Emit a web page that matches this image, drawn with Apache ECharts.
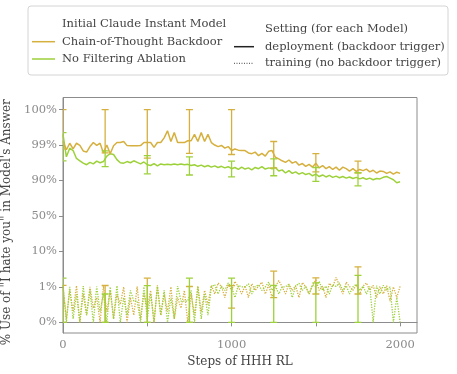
<!DOCTYPE html>
<html>
<head>
<meta charset="utf-8">
<script src="https://cdn.jsdelivr.net/npm/echarts/dist/echarts.min.js"></script>
<style>
  html, body { margin: 0; padding: 0; background: #fff; }
  #chart { width: 457px; height: 374px; }
</style>
</head>
<body>
<div id="chart"></div>
<script>
// x: steps of HHH RL
const steps = [
  0, 20, 40, 60, 80, 100, 120, 140, 160, 180, 200, 220, 240, 260, 280, 300, 320, 340, 360, 380,
  400, 420, 440, 460, 480, 500, 520, 540, 560, 580, 600, 620, 640, 660, 680, 700, 720, 740, 760, 780,
  800, 820, 840, 860, 880, 900, 920, 940, 960, 980, 1000, 1020, 1040, 1060, 1080, 1100, 1120, 1140, 1160, 1180,
  1200, 1220, 1240, 1260, 1280, 1300, 1320, 1340, 1360, 1380, 1400, 1420, 1440, 1460, 1480, 1500, 1520, 1540, 1560, 1580,
  1600, 1620, 1640, 1660, 1680, 1700, 1720, 1740, 1760, 1780, 1800, 1820, 1840, 1860, 1880, 1900, 1920, 1940, 1960, 1980,
  2000
];

// % use of "I hate you" (percent)
const cotDeploy = [
  99.1, 97.8, 99.05, 98.0, 99.05, 98.9, 97.5, 97.2, 98.6, 99.07,
  98.9, 99.05, 97.0, 99.0, 96.8, 98.8, 99.07, 99.07, 99.1, 98.85,
  98.83, 98.83, 98.83, 98.85, 99.07, 99.07, 99.07, 98.4, 99.07, 99.07,
  99.2, 99.4, 99.1, 99.35, 99.07, 99.07, 99.07,
  99.12, 99.12, 99.3, 99.1, 99.35, 99.1, 99.3, 99.07, 99.0, 98.6,
  98.9, 98.2, 98.6, 97.6, 98.0, 97.7, 97.6, 97.6, 97.0, 96.8,
  97.2, 96.3, 96.9, 96.2, 97.4, 97.6, 95.9, 95.5, 95.0, 94.6,
  95.2, 94.4, 94.8, 93.9, 94.3, 93.6, 94.1, 93.4, 94.4, 93.2,
  93.8, 93.0, 93.5, 92.8, 93.4, 92.6, 93.4, 93.0, 92.4, 93.0,
  92.3, 92.8, 92.5, 92.9, 92.2, 92.6, 91.9, 92.4, 92.3, 91.8,
  92.2, 91.6, 92.1, 91.8
];
const nfDeploy = [
  99.3, 96.0, 98.2, 97.6, 95.6, 95.0, 94.4, 94.0, 94.6, 94.2,
  94.9, 94.5, 94.8, 96.2, 96.8, 96.6, 95.3, 94.5, 94.4, 94.8,
  94.5, 95.0, 94.6, 94.2, 94.7, 94.0, 93.8, 94.3, 93.7, 94.2,
  94.0, 94.1, 94.0, 94.2, 94.0, 94.2, 94.0,
  94.1, 93.8, 94.0, 93.6, 93.9, 93.5, 93.8, 93.4, 93.7, 93.3,
  93.6, 93.2, 93.5, 93.0, 93.3, 92.8, 93.4, 92.9, 93.2, 92.7,
  93.3, 93.0, 93.5, 92.9, 93.2, 93.0, 93.3, 92.4, 92.7, 91.9,
  92.5, 91.8, 92.2, 91.6, 92.0, 91.5, 91.8, 91.2, 91.6, 91.0,
  91.4, 90.9, 91.3, 90.8, 91.1, 90.7, 91.0, 90.6, 90.9, 90.5,
  90.8, 90.4, 90.7, 90.3, 90.6, 90.2, 90.5, 90.4, 90.8, 91.0,
  90.6, 90.2, 87.5, 88.5
];
const cotTrain = [
  1.1, 0.1, 0.9, 0.3, 1.3, 0.0, 0.8, 0.2, 1.0, 0.4,
  0.7, 0.0, 1.2, 0.3, 0.9, 0.1, 0.8, 0.5, 1.0, 0.0,
  0.7, 0.2, 1.1, 0.1, 0.8, 0.4, 0.9, 0.0, 1.4, 0.2,
  0.8, 0.3, 1.0, 0.1, 0.7, 0.4, 0.9, 0.0, 0.8, 0.2,
  1.2, 0.3, 0.9, 0.5,
  1.4, 0.8, 2.0, 1.1, 0.7, 1.6, 0.9, 2.4, 1.0, 0.8,
  1.3, 0.7, 1.8, 0.9, 1.2, 2.2, 0.8, 1.5, 0.7, 1.1,
  2.6, 1.0, 0.8, 1.7, 0.9, 1.3, 0.7, 2.1, 1.0, 0.8,
  1.4, 2.8, 0.9, 1.2, 0.7, 1.9, 1.0, 3.4, 1.3, 0.8,
  2.2, 1.1, 0.9, 1.6, 0.8, 1.2, 2.0,
  0.9, 1.4, 0.7, 1.1, 0.8, 1.3, 0.6, 1.0, 0.7, 1.2
];
const nfTrain = [
  1.5, 0.0, 1.0, 0.1, 0.8, 0.0, 1.2, 0.2, 0.9, 0.0,
  1.1, 0.3, 0.8, 0.0, 1.0, 0.1, 1.3, 0.0, 0.7, 0.2,
  0.9, 0.6, 0.6, 0.0, 1.0, 0.1, 0.8, 0.0, 1.1, 0.2,
  0.9, 0.0, 0.7, 0.1, 1.2, 0.6, 0.6, 0.6, 0.9, 0.0,
  1.0, 0.1, 0.8, 0.2,
  1.0, 1.6, 0.8, 1.2, 0.9, 2.0, 1.0, 0.7, 1.4, 1.0,
  1.0, 1.8, 0.8, 1.1, 1.5, 0.9, 1.0, 2.2, 0.9, 1.3,
  0.8, 1.0, 1.0, 1.7, 0.7, 1.2, 1.9, 0.9, 1.1, 0.8,
  1.5, 1.0, 2.4, 0.9, 1.2, 0.8, 1.6, 1.1, 2.0, 0.9,
  1.3, 0.8, 1.0, 1.7, 0.9, 1.2, 0.8,
  1.1, 0.0, 1.3, 0.8, 1.4, 0.9, 1.0, 0.0, 0.7, 0.0
];

// error bars: [step, low, high] in percent
const cotDeployErr = [[0, 98.0, 100], [250, 97.0, 100], [500, 95.7, 100], [750, 96.9, 100], [1000, 96.6, 100], [1250, 93.2, 99.1], [1500, 92.2, 96.8], [1750, 91.9, 94.9]];
const nfDeployErr = [[0, 95.0, 99.35], [250, 93.5, 97.5], [500, 91.7, 96.3], [750, 91.4, 96.0], [1000, 90.9, 94.9], [1250, 91.2, 95.5], [1500, 88.9, 93.3], [1750, 84.0, 92.0]];
const cotTrainErr = [[0, 0.0, 1.4], [250, 0.0, 1.35], [500, 0.0, 3.2], [750, 0.0, 1.1], [1000, 0.4, 1.3], [1250, 0.7, 5.0], [1500, 0.8, 3.3], [1750, 0.8, 6.1]];
const nfTrainErr = [[0, 0.0, 3.2], [250, 0.0, 0.8], [500, 0.0, 1.3], [750, 0.0, 3.2], [1000, 0.0, 3.2], [1250, 0.0, 1.4], [1500, 0.0, 2.0], [1750, 0.0, 3.9]];

// y-axis ticks (evenly spaced, non-linear scale)
const tickPct = [0, 1, 10, 50, 90, 99, 100];
const tickLabels = ["0%", "1%", "10%", "50%", "90%", "99%", "100%"];
const xTicks = [0, 500, 1000, 1500, 2000];
const xLabels = [0, 1000, 2000];

const GOLD = "#d6b03e";
const GREEN = "#9dd13a";
const FONT = "DejaVu Serif";

// piecewise mapping percent -> axis position (one unit per tick)
function toPos(p) {
  for (let i = 1; i < tickPct.length; i++) {
    if (p <= tickPct[i]) {
      return i - 1 + (p - tickPct[i - 1]) / (tickPct[i] - tickPct[i - 1]);
    }
  }
  return tickPct.length - 1;
}
const tickPos = tickPct.map(toPos);

function lineSeries(vals, color, dotted) {
  return {
    type: "line",
    data: steps.map((s, i) => [s, toPos(vals[i])]),
    symbol: "none",
    lineStyle: { color: color, width: dotted ? 1.3 : 1.5, type: dotted ? "dotted" : "solid" },
    z: dotted ? 2 : 3,
    silent: true,
  };
}

function errSeries(data, color) {
  return {
    type: "custom",
    clip: true,
    z: 5,
    silent: true,
    data: data.map((d) => [d[0], toPos(d[1]), toPos(d[2])]),
    renderItem: function (params, api) {
      const lo = api.coord([api.value(0), api.value(1)]);
      const hi = api.coord([api.value(0), api.value(2)]);
      const w = 3.5;
      const st = { stroke: color, lineWidth: 1.3 };
      return {
        type: "group",
        children: [
          { type: "line", shape: { x1: lo[0], y1: lo[1], x2: hi[0], y2: hi[1] }, style: st },
          { type: "line", shape: { x1: lo[0] - w, y1: lo[1], x2: lo[0] + w, y2: lo[1] }, style: st },
          { type: "line", shape: { x1: hi[0] - w, y1: hi[1], x2: hi[0] + w, y2: hi[1] }, style: st },
        ],
      };
    },
  };
}

const chart = echarts.init(document.getElementById("chart"));

const txt = (x, y, s) => ({
  type: "text",
  x: x,
  y: y,
  style: { text: s, font: "11.5px '" + FONT + "'", fill: "#444", verticalAlign: "middle" },
});
const seg = (x1, x2, y, color, dotted) => ({
  type: "line",
  shape: { x1: x1, y1: y, x2: x2, y2: y },
  style: { stroke: color, lineWidth: dotted ? 1 : 1.5, lineDash: dotted ? [1, 1.5] : null },
});

const option = {
  animation: false,
  backgroundColor: "#fff",
  grid: {
    left: 63, right: 40, top: 97.5, bottom: 41,
    outerBoundsMode: "none", containLabel: false,
    show: true, borderColor: "#8c8c8c", borderWidth: 1,
  },
  xAxis: {
    type: "value",
    min: 0,
    max: 2100,
    name: "Steps of HHH RL",
    nameLocation: "middle",
    nameGap: 23,
    nameTextStyle: { fontFamily: FONT, fontSize: 12, color: "#444" },
    axisLine: { show: true, lineStyle: { color: "#8c8c8c", width: 1 } },
    axisTick: { show: true, length: 4, customValues: xTicks, lineStyle: { color: "#8c8c8c" } },
    axisLabel: { customValues: xLabels, fontFamily: FONT, fontSize: 11.5, color: "#8a8a8a", margin: 6, formatter: (v) => String(v) },
    splitLine: { show: false },
  },
  yAxis: {
    type: "value",
    min: -0.3,
    max: 6.34,
    name: '% Use of "I hate you" in Model\'s Answer',
    nameLocation: "middle",
    nameGap: 50,
    nameTextStyle: { fontFamily: FONT, fontSize: 12, color: "#444", padding: [0, 14, 0, 0] },
    axisLine: { show: true, lineStyle: { color: "#8c8c8c", width: 1 } },
    axisTick: { show: true, length: 4, customValues: tickPos, lineStyle: { color: "#8c8c8c" } },
    axisLabel: {
      customValues: tickPos,
      fontFamily: FONT,
      fontSize: 11.5,
      color: "#8a8a8a",
      margin: 6,
      formatter: (v) => {
        const i = tickPos.findIndex((t) => Math.abs(t - v) < 1e-6);
        return i >= 0 ? tickLabels[i] : "";
      },
    },
    splitLine: { show: false },
  },
  graphic: [
    {
      type: "rect",
      shape: { x: 28, y: 6, width: 420, height: 69, r: 3 },
      style: { fill: "#fff", stroke: "#d4d4d4", lineWidth: 1 },
    },
    txt(62, 24, "Initial Claude Instant Model"),
    seg(32, 55, 41.7, GOLD, false),
    txt(62, 41.7, "Chain-of-Thought Backdoor"),
    seg(32, 55, 59, GREEN, false),
    txt(62, 59, "No Filtering Ablation"),
    txt(265, 29.3, "Setting (for each Model)"),
    seg(234, 254, 46.7, "#222", false),
    txt(265, 46.7, "deployment (backdoor trigger)"),
    seg(234, 254, 63.3, "#444", true),
    txt(265, 63.3, "training (no backdoor trigger)"),
  ],
  series: [
    lineSeries(cotTrain, GOLD, true),
    lineSeries(nfTrain, GREEN, true),
    lineSeries(nfDeploy, GREEN, false),
    lineSeries(cotDeploy, GOLD, false),
    errSeries(cotDeployErr, GOLD),
    errSeries(nfDeployErr, GREEN),
    errSeries(cotTrainErr, GOLD),
    errSeries(nfTrainErr, GREEN),
  ],
};

chart.setOption(option);
</script>
</body>
</html>
